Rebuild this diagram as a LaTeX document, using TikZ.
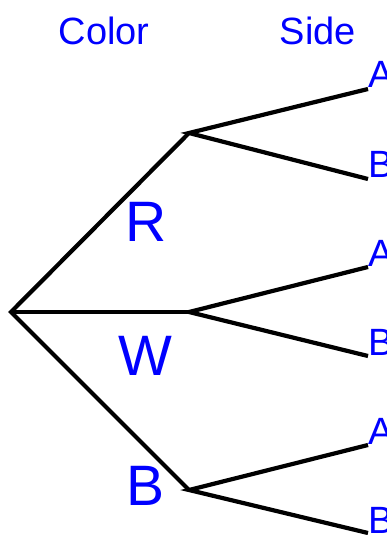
\documentclass[tikz,border=0pt]{standalone}
\usepackage{fontspec}
\setmainfont{Liberation Sans}
\begin{document}
\begin{tikzpicture}[x=1pt,y=-1pt,
  branch/.style={line width=4.2pt,black,line join=miter},
  head/.style={text=blue,font=\fontsize{38}{40}\selectfont,inner sep=0pt},
  leaf/.style={text=blue,font=\fontsize{38}{40}\selectfont,inner sep=0pt,anchor=base west},
  big/.style={text=blue,font=\fontsize{57}{60}\selectfont,inner sep=0pt,anchor=base}]
\useasboundingbox (0,0) rectangle (387,535);
\coordinate (root) at (11,312);
\coordinate (r) at (189,133);
\coordinate (w) at (189,312);
\coordinate (b) at (189,490);
\coordinate (ra) at (368,89);
\coordinate (rb) at (368,179);
\coordinate (wa) at (368,267);
\coordinate (wb) at (368,356);
\coordinate (ba) at (368,445);
\coordinate (bb) at (368,533);
\draw[branch] (r) -- (root) -- (b);
\draw[branch] (root) -- (w);
\draw[branch] (ra) -- (r) -- (rb);
\draw[branch] (wa) -- (w) -- (wb);
\draw[branch] (ba) -- (b) -- (bb);
\node[head,anchor=base] (hc) at (104,45) {Color};
\node[head,anchor=base] (hs) at (318,45) {Side};
\node[leaf] (la1) at (368,88) {A};
\node[leaf] (lb1) at (368,177) {B};
\node[leaf] (la2) at (368,266) {A};
\node[leaf] (lb2) at (368,355) {B};
\node[leaf] (la3) at (368,444) {A};
\node[leaf] (lb3) at (368,533) {B};
\node[big] (lr) at (146,241) {R};
\node[big] (lw) at (145,375) {W};
\node[big] (lbb) at (146,505) {B};
\end{tikzpicture}
\end{document}
